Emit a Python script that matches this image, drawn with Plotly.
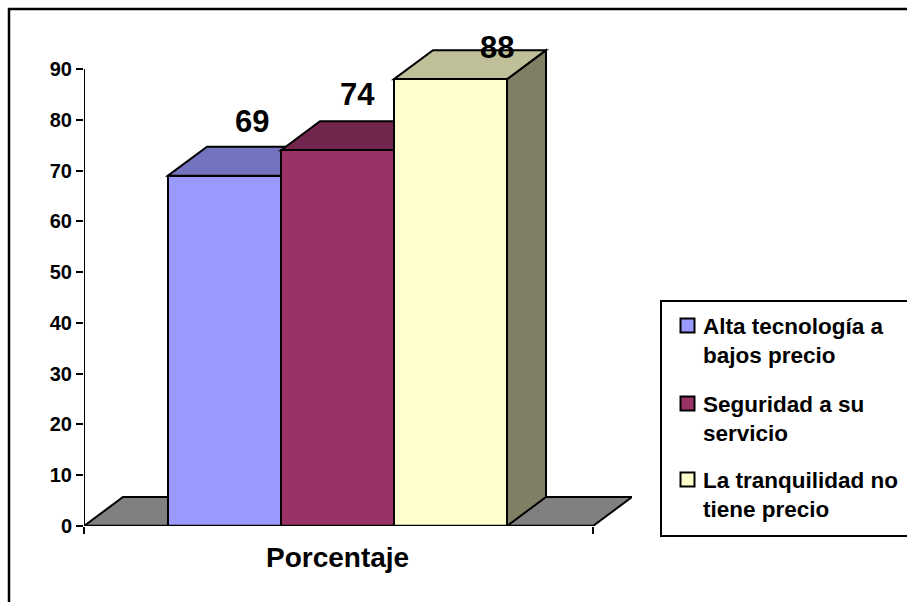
import plotly.graph_objects as go

# Chart data
categories = ["Alta tecnología a<br>bajos precio", "Seguridad a su<br>servicio", "La tranquilidad no<br>tiene precio"]
values = [69, 74, 88]
group_label = "Porcentaje"
y_ticks = list(range(0, 100, 10))

# Face colours: front, top, and the right-hand side of the last column
front_colors = ["#9999FF", "#993366", "#FFFFCC"]
top_colors = ["#7373BF", "#73264D", "#BFBF99"]
side_color = "#7F7F66"
floor_color = "#808080"

W, H = 907, 602
PLOT_L, PLOT_R, PLOT_T, PLOT_B = 84, 632, 10, 526
PX_PER_Y = (526 - 69) / 90
PX_PER_X = 113
X_CENTER = 337.5
DEPTH_X = 39 / PX_PER_X
DEPTH_Y = 29 / PX_PER_Y
AXIS_L = (84 - X_CENTER) / PX_PER_X
AXIS_R = (593 - X_CENTER) / PX_PER_X
OUTLINE = dict(color="black", width=2)
FONT = "Liberation Sans, Arial, sans-serif"

# Label nudges in pixels, relative to the top centre of each bar
label_dx = [27, 20, 46]
label_dy = [54, 56, 32]

# Legend layout in pixels from the top-left corner of the page
swatch_top = [318, 396, 472]
legend_text_mid = [340.5, 418.5, 494.5]


def paper_x(px):
    return (px - PLOT_L) / (PLOT_R - PLOT_L)


def paper_y(px):
    return (PLOT_B - px) / (PLOT_B - PLOT_T)


def face(xs, ys, fill):
    path = "M " + " L ".join(f"{x},{y}" for x, y in zip(xs, ys)) + " Z"
    return dict(type="path", path=path, xref="x", yref="y", fillcolor=fill,
                line=OUTLINE, layer="below")


lefts = [-1.5, -0.5, 0.5]
shapes = [
    # Outer frame, open past the right and bottom edges of the page
    dict(type="rect", xref="paper", yref="paper", x0=paper_x(9), x1=paper_x(1000),
         y0=paper_y(1000), y1=paper_y(9), line=dict(color="black", width=2.5),
         fillcolor="rgba(0,0,0,0)", layer="below"),
    # Floor of the 3D box
    face([AXIS_L, AXIS_L + DEPTH_X, AXIS_R + DEPTH_X, AXIS_R], [0, DEPTH_Y, DEPTH_Y, 0], floor_color),
    # Side wall of the last column
    face([1.5, 1.5 + DEPTH_X, 1.5 + DEPTH_X, 1.5], [0, DEPTH_Y, values[2] + DEPTH_Y, values[2]], side_color),
]
# Top faces sit behind the front faces of the next columns
for value, left, top in zip(values, lefts, top_colors):
    shapes.append(face([left, left + DEPTH_X, left + 1 + DEPTH_X, left + 1],
                       [value, value + DEPTH_Y, value + DEPTH_Y, value], top))

# Legend frame and swatches
shapes.append(dict(type="rect", xref="paper", yref="paper", x0=paper_x(661), x1=paper_x(1000),
                   y0=paper_y(536), y1=paper_y(301), line=dict(color="black", width=2),
                   fillcolor="white", layer="above"))
for top, color in zip(swatch_top, front_colors):
    shapes.append(dict(type="rect", xref="paper", yref="paper", x0=paper_x(680.5), x1=paper_x(694.5),
                       y0=paper_y(top + 14.5), y1=paper_y(top + 0.5),
                       line=dict(color="black", width=2), fillcolor=color, layer="above"))

fig = go.Figure()

# Front faces of the columns
for name, value, left, color in zip(categories, values, lefts, front_colors):
    fig.add_trace(go.Bar(x=[left + 0.5], y=[value], width=1, name=name.replace("<br>", " "),
                         marker=dict(color=color, line=OUTLINE), showlegend=False))

# Axis lines
fig.add_trace(go.Scatter(x=[AXIS_L, AXIS_L], y=[0, 90], mode="lines", line=OUTLINE,
                         showlegend=False, hoverinfo="skip"))
fig.add_trace(go.Scatter(x=[AXIS_L, AXIS_R], y=[0, 0], mode="lines", line=dict(color="black", width=2.5),
                         showlegend=False, hoverinfo="skip"))

annotations = [
    dict(x=left + 0.5, y=v, text=f"<b>{v}</b>", showarrow=False, xshift=dx, yshift=dy,
         font=dict(family=FONT, size=31, color="black"), xanchor="center", yanchor="middle")
    for left, v, dx, dy in zip(lefts, values, label_dx, label_dy)
]
annotations.append(dict(x=0, y=0, text=f"<b>{group_label}</b>", showarrow=False, yshift=-31,
                        font=dict(family=FONT, size=28, color="black"),
                        xanchor="center", yanchor="middle"))
for name, mid in zip(categories, legend_text_mid):
    annotations.append(dict(xref="paper", yref="paper", x=paper_x(701), y=paper_y(mid),
                            text=f"<b>{name}</b>", showarrow=False, align="left",
                            font=dict(family=FONT, size=22.5, color="black"),
                            xanchor="left", yanchor="middle"))

fig.update_layout(
    width=W, height=H, autosize=False,
    margin=dict(l=PLOT_L, r=W - PLOT_R, t=PLOT_T, b=H - PLOT_B, pad=0),
    paper_bgcolor="white", plot_bgcolor="rgba(0,0,0,0)",
    barmode="overlay", bargap=0, showlegend=False,
    annotations=annotations, shapes=shapes,
    xaxis=dict(range=[AXIS_L, (PLOT_R - X_CENTER) / PX_PER_X], tickvals=[AXIS_L, AXIS_R],
               ticktext=["", ""], ticks="outside", ticklen=7, tickwidth=2, tickcolor="black",
               showgrid=False, zeroline=False, showline=False),
    yaxis=dict(range=[0, (PLOT_B - PLOT_T) / PX_PER_Y], tickvals=y_ticks, ticks="outside",
               ticklen=7, tickwidth=2, tickcolor="black", showgrid=False, zeroline=False,
               showline=False, tickfont=dict(family=FONT, size=20, color="black", weight="bold")),
)

fig.write_html("out.html", config=dict(displayModeBar=False))
